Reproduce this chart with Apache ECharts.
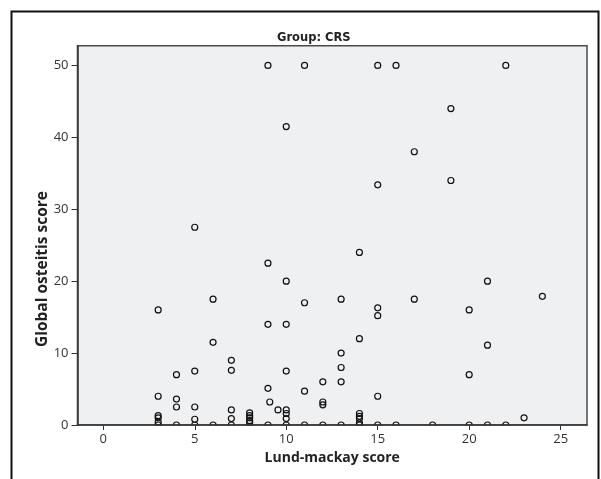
<!DOCTYPE html>
<html>
<head>
<meta charset="utf-8">
<script src="https://cdn.jsdelivr.net/npm/echarts@6/dist/echarts.min.js"></script>
<style>
html,body{margin:0;padding:0;background:#fff;}
#chart{width:601px;height:479px;}
</style>
</head>
<body>
<div id="chart"></div>
<script>
// Lund-Mackay score (x) and Global osteitis score (y)
const lundMackay = [
  9, 11, 15, 16, 22,
  10, 19, 17, 15, 19,
  5, 14, 9, 10, 21,
  6, 11, 13, 17, 24,
  3, 15, 15, 20,
  9, 10, 14, 6, 21, 13,
  7, 7, 4, 5, 10, 13, 20,
  12, 13, 9, 11, 3, 15,
  4, 4, 5, 9.1, 9.55, 7, 10, 12, 12,
  3, 3, 3, 3,
  4,
  5, 5,
  6,
  7, 7,
  8, 8, 8, 8, 8,
  9,
  10, 10, 10,
  11, 12, 13,
  14, 14, 14, 14, 14,
  15, 16, 18, 20, 21, 22,
  23
];
const osteitis = [
  50, 50, 50, 50, 50,
  41.5, 44, 38, 33.4, 34,
  27.5, 24, 22.5, 20, 20,
  17.5, 17, 17.5, 17.5, 17.9,
  16, 16.3, 15.2, 16,
  14, 14, 12, 11.5, 11.1, 10,
  9, 7.6, 7, 7.5, 7.5, 8, 7,
  6, 6, 5.1, 4.7, 4, 4,
  3.6, 2.5, 2.5, 3.2, 2.1, 2.1, 2.1, 3.2, 2.8,
  1.3, 1.0, 0.4, 0,
  0,
  0.8, 0,
  0,
  0.9, 0,
  1.7, 1.3, 1.0, 0.6, 0.3,
  0,
  1.6, 0.9, 0,
  0, 0, 0,
  1.6, 1.2, 0.9, 0.3, 0,
  0, 0, 0, 0, 0, 0,
  1.0
];
const xTicks = [0, 5, 10, 15, 20, 25];
const yTicks = [0, 10, 20, 30, 40, 50];
const chartTitle = 'Group: CRS';
const xTitle = 'Lund-mackay score';
const yTitle = 'Global osteitis score';

const points = lundMackay.map((x, i) => [x, osteitis[i]]);

const G = {left: 77.5, top: 45.7, right: 14, bottom: 54};
const H = 479, W = 601;
const axisY = H - G.bottom;

const chart = echarts.init(document.getElementById('chart'), null, {renderer: 'canvas'});
chart.setOption({
  animation: false,
  backgroundColor: '#ffffff',
  title: {
    text: chartTitle,
    left: 277, top: 32, padding: 0,
    textStyle: {fontFamily: 'DejaVu Sans', fontWeight: 'bold', fontSize: 11.5, color: '#222'}
  },
  grid: {
    left: G.left, top: G.top, right: G.right, bottom: G.bottom,
    show: true, backgroundColor: '#eff0f2', borderColor: '#4a4a4a', borderWidth: 1.5,
    containLabel: false
  },
  xAxis: {
    type: 'value', min: -1.41, max: 26.44, z: 6,
    name: xTitle, nameLocation: 'middle', nameGap: 23,
    nameTextStyle: {fontFamily: 'Open Sans', fontWeight: 'bold', fontSize: 14, color: '#222'},
    axisLine: {show: true, onZero: false, lineStyle: {color: '#333', width: 1.5}},
    axisTick: {show: true, length: 5, customValues: xTicks, lineStyle: {color: '#333', width: 1}},
    axisLabel: {customValues: xTicks, margin: 8, fontFamily: 'Open Sans', fontSize: 13, color: '#333'},
    splitLine: {show: false}
  },
  yAxis: {
    type: 'value', min: 0, max: 52.75, z: 6,
    axisLine: {show: true, onZero: false, lineStyle: {color: '#333', width: 1.5}},
    axisTick: {show: true, length: 6, customValues: yTicks, lineStyle: {color: '#333', width: 1}},
    axisLabel: {customValues: yTicks, margin: 9, fontFamily: 'Open Sans', fontSize: 13, color: '#333'},
    splitLine: {show: false}
  },
  graphic: [
    {type: 'rect', z: 4, silent: true,
     shape: {x: 40, y: axisY + 0.75, width: 555, height: 9},
     style: {fill: '#ffffff'}},
    {type: 'text', z: 10, silent: true, x: 43, y: 269, rotation: Math.PI / 2,
     style: {text: yTitle, fontFamily: 'Open Sans', fontWeight: 'bold', fontSize: 15.5,
             fill: '#222', align: 'center', verticalAlign: 'middle'}},
    {type: 'rect', z: 10, silent: true,
     shape: {x: 11.5, y: 11.5, width: 587, height: 490},
     style: {fill: 'none', stroke: '#111', lineWidth: 2}}
  ],
  series: [{
    type: 'scatter',
    data: points,
    symbol: 'circle',
    symbolSize: 6,
    clip: false,
    z: 3,
    itemStyle: {color: 'transparent', borderColor: '#111', borderWidth: 1.2, opacity: 1},
    emphasis: {disabled: true}
  }]
});
</script>
</body>
</html>
